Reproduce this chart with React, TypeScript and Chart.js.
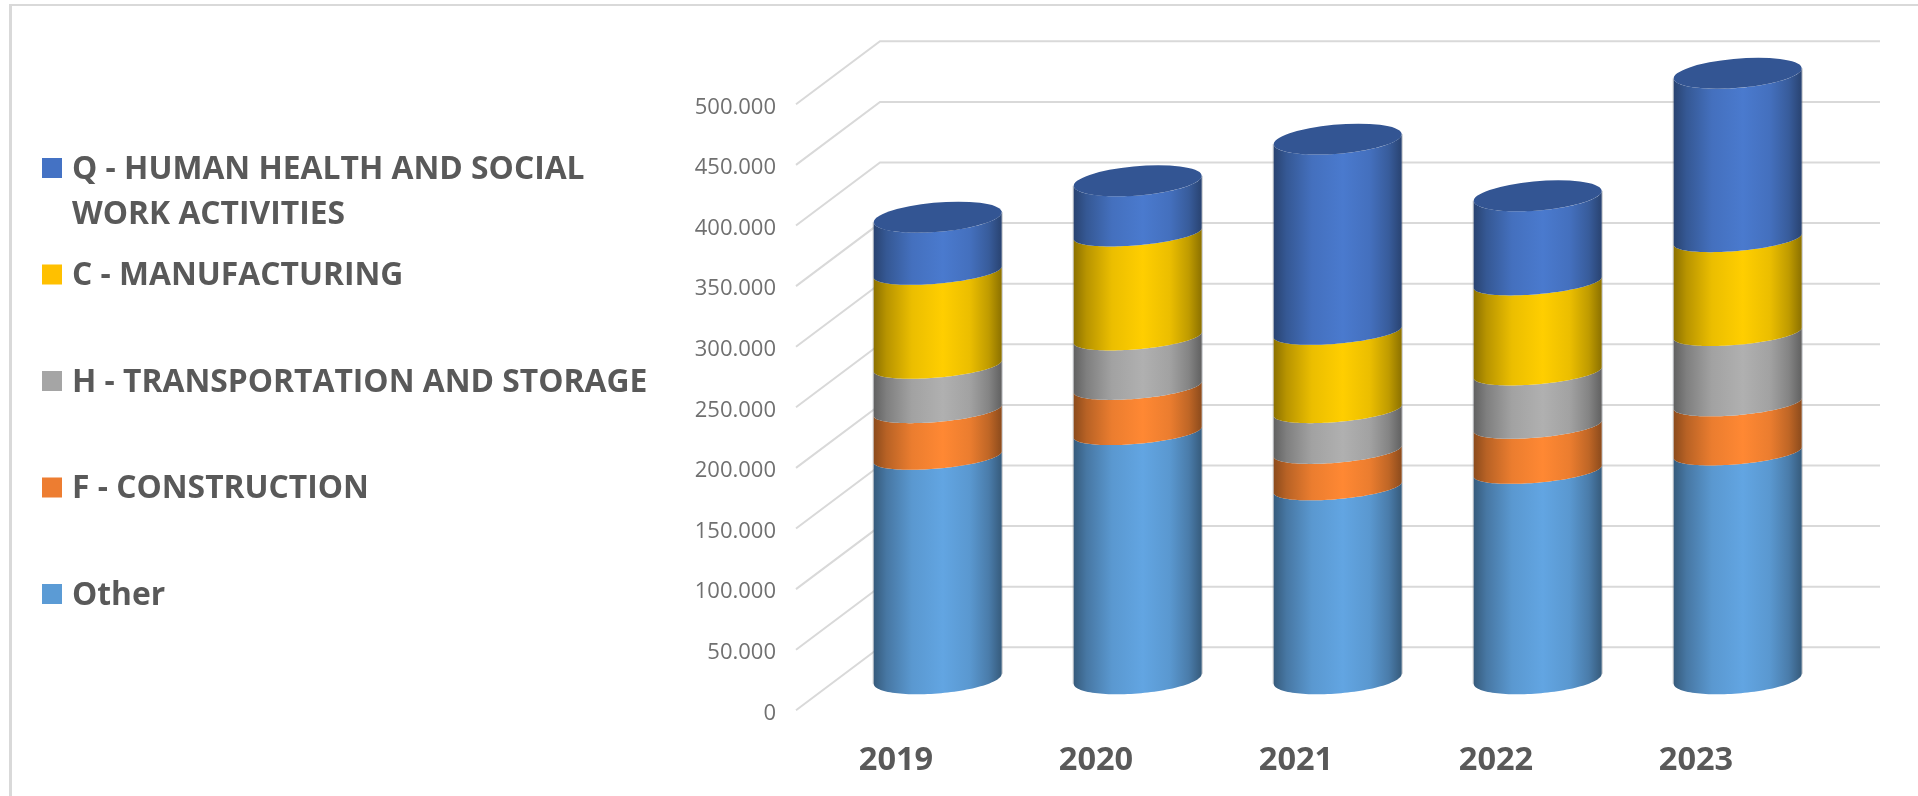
import React, { useEffect, useRef } from "react";
import { Chart, registerables } from "chart.js";

Chart.register(...registerables);

const years = ["2019", "2020", "2021", "2022", "2023"];
const otherValues = [183400, 203800, 158200, 171800, 187000];
const constructionValues = [38500, 37300, 30100, 37200, 40500];
const transportValues = [36600, 40800, 33600, 44000, 58000];
const manufacturingValues = [77500, 85800, 64600, 74300, 77500];
const healthValues = [45700, 44000, 159600, 72000, 137400];
const healthLines = ["Q - HUMAN HEALTH AND SOCIAL", "WORK ACTIVITIES"];

const FONT = '"Open Sans", "Noto Sans", sans-serif';
const DEPTH_X = 84;
const DEPTH_Y = 63;
const CYL_DX = 41.7;
const CYL_DY = 30.5;
const CAP_RATIO = 0.242;
const CAP_SKEW = 0.322;
const BAND_RATIO = 0.2;
const BAND_SKEW = 0.43;
const SHADE_STOPS: [number, number][] = [
  [0, 0.55],
  [0.1, 0.72],
  [0.3, 0.92],
  [0.54, 1],
  [0.75, 0.92],
  [0.9, 0.75],
  [1, 0.55],
];

const series = [
  { label: "Other", data: otherValues, key: "#5b9bd5", peak: [98, 165, 226] },
  { label: "F - CONSTRUCTION", data: constructionValues, key: "#ed7d31", peak: [255, 136, 51] },
  { label: "H - TRANSPORTATION AND STORAGE", data: transportValues, key: "#a5a5a5", peak: [176, 176, 176] },
  { label: "C - MANUFACTURING", data: manufacturingValues, key: "#ffc000", peak: [255, 206, 0] },
  { label: healthLines.join(" "), data: healthValues, key: "#4472c4", peak: [74, 122, 206] },
];

const wallsPlugin = {
  id: "walls",
  beforeDatasetsDraw(chart: any) {
    const { ctx, chartArea, scales } = chart;
    ctx.save();
    ctx.strokeStyle = "#d9d9d9";
    ctx.lineWidth = 2;
    ctx.lineJoin = "miter";
    for (const tick of scales.y.ticks) {
      const yPx = scales.y.getPixelForValue(tick.value);
      ctx.beginPath();
      ctx.moveTo(chartArea.left, yPx);
      ctx.lineTo(chartArea.left + DEPTH_X, yPx - DEPTH_Y);
      ctx.lineTo(chartArea.right + DEPTH_X, yPx - DEPTH_Y);
      ctx.stroke();
    }
    ctx.restore();
  },
};

function frontArc(cx: number, cy: number, R: number, ratio: number, skew: number, reverse: boolean) {
  const c = R * ratio;
  const b = R * skew;
  const a = Math.sqrt(R * R - b * b);
  const t0 = Math.atan2(b, a);
  const pts: [number, number][] = [];
  for (let i = 0; i <= 60; i++) {
    const t = t0 - (Math.PI * i) / 60;
    pts.push([cx + a * Math.cos(t) + b * Math.sin(t), cy - c * Math.sin(t)]);
  }
  return reverse ? pts.reverse() : pts;
}

const cylinderPlugin = {
  id: "cylinders",
  beforeDatasetDraw() {
    return false;
  },
  beforeDatasetsDraw(chart: any) {
    const { ctx } = chart;
    const last = series.length - 1;
    ctx.save();
    // soft outline along both sides of each whole column
    const first = chart.getDatasetMeta(0).data;
    const top = chart.getDatasetMeta(last).data;
    first.forEach((bar: any, i: number) => {
      const cx = bar.x + CYL_DX;
      const R = bar.width / 2;
      ctx.fillStyle = "rgba(120,125,135,0.45)";
      ctx.fillRect(cx - R - 1, top[i].y - CYL_DY + 5, 1, bar.base - top[i].y - 1);
      ctx.fillRect(cx + R, top[i].y - CYL_DY - 5, 1, bar.base - top[i].y - 1);
    });
    series.forEach((s, si) => {
      const meta = chart.getDatasetMeta(si);
      meta.data.forEach((bar: any) => {
        const cx = bar.x + CYL_DX;
        const R = bar.width / 2;
        const lowY = bar.base - CYL_DY;
        const topY = bar.y - CYL_DY;
        const grad = ctx.createLinearGradient(cx - R, 0, cx + R, 0);
        for (const [pos, m] of SHADE_STOPS) {
          grad.addColorStop(pos, `rgb(${s.peak.map((v) => Math.round(v * m)).join(",")})`);
        }
        const low = si === 0 ? frontArc(cx, lowY - 1, R, CAP_RATIO, CAP_SKEW, false) : frontArc(cx, lowY - 0.5, R, BAND_RATIO, BAND_SKEW, false);
        const up = si === last ? frontArc(cx, topY, R, CAP_RATIO, CAP_SKEW, true) : frontArc(cx, topY - 0.5, R, BAND_RATIO, BAND_SKEW, true);
        ctx.beginPath();
        low.forEach(([x, y], i) => (i ? ctx.lineTo(x, y) : ctx.moveTo(x, y)));
        up.forEach(([x, y]) => ctx.lineTo(x, y));
        ctx.closePath();
        ctx.fillStyle = grad;
        ctx.fill();
        if (si === last) {
          const c = R * CAP_RATIO;
          const b = R * CAP_SKEW;
          const a = Math.sqrt(R * R - b * b);
          ctx.save();
          ctx.transform(a, 0, b, -c, cx, topY);
          ctx.beginPath();
          ctx.arc(0, 0, 1, 0, Math.PI * 2);
          ctx.restore();
          ctx.fillStyle = "#335593";
          ctx.fill();
        }
      });
    });
    ctx.restore();
  },
};

const legendPlugin = {
  id: "sideLegend",
  afterDraw(chart: any) {
    const { ctx } = chart;
    ctx.save();
    ctx.textBaseline = "middle";
    ctx.textAlign = "left";
    ctx.font = `700 31.8px ${FONT}`;
    const rows = [...series].reverse();
    rows.forEach((s, i) => {
      const y = 168 + i * 106.5;
      ctx.fillStyle = s.key;
      ctx.fillRect(42, y - 10, 20, 20);
      ctx.fillStyle = "#595959";
      const lines = i === 0 ? healthLines : [s.label];
      lines.forEach((line, li) => ctx.fillText(line, 72, y + 1.8 + li * 45.5));
    });
    ctx.restore();
  },
};

export default function App() {
  const ref = useRef<HTMLCanvasElement>(null);
  useEffect(() => {
    const chart = new Chart(ref.current as HTMLCanvasElement, {
      type: "bar",
      data: {
        labels: years,
        datasets: series.map((s) => ({
          label: s.label,
          data: s.data,
          backgroundColor: s.key,
          categoryPercentage: 1,
          barPercentage: 0.64,
        })),
      },
      options: {
        animation: false,
        responsive: false,
        devicePixelRatio: 1,
        layout: { autoPadding: false, padding: { left: 0, right: 122, top: 104.3, bottom: 0 } },
        plugins: { legend: { display: false }, tooltip: { enabled: false } },
        scales: {
          x: {
            stacked: true,
            afterFit: (s: any) => {
              s.height = 85.7;
            },
            grid: { display: false, drawTicks: false },
            border: { display: false },
            ticks: {
              padding: 31,
              autoSkip: false,
              maxRotation: 0,
              color: "#595959",
              font: { family: FONT, size: 32.5, weight: "700" },
            },
          },
          y: {
            stacked: true,
            min: 0,
            max: 500000,
            afterFit: (s: any) => {
              s.width = 796;
            },
            grid: { display: false, drawTicks: false },
            border: { display: false },
            ticks: {
              stepSize: 50000,
              padding: 20,
              labelOffset: 3,
              color: "#707070",
              font: { family: FONT, size: 22 },
              callback: (v: any) => (v === 0 ? "0" : `${v / 1000}.000`),
            },
          },
        },
      } as any,
      plugins: [wallsPlugin, cylinderPlugin, legendPlugin],
    });
    return () => chart.destroy();
  }, []);
  return (
    <div style={{ position: "fixed", inset: 0, background: "#fff" }}>
      <div
        style={{
          position: "absolute",
          left: 9,
          top: 4,
          right: 0,
          bottom: 0,
          borderLeft: "3px solid #d9d9d9",
          borderTop: "2px solid #d9d9d9",
        }}
      />
      <canvas ref={ref} width={1918} height={796} style={{ position: "absolute", left: 0, top: 0, display: "block" }} />
    </div>
  );
}
